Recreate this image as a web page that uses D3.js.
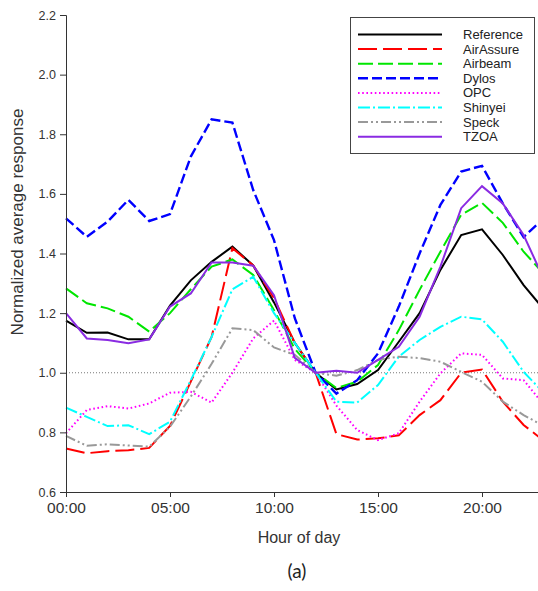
<!DOCTYPE html>
<html>
<head>
<meta charset="utf-8">
<script src="https://cdn.jsdelivr.net/npm/d3@7"></script>
<style>
  body { margin: 0; background: #fff; }
  svg { display: block; font-family: "Liberation Sans", Arial, sans-serif; }
</style>
</head>
<body>
<div class="container"></div>
<script>

// hours 0..23, one value per hour for each sensor
var hours = [0,1,2,3,4,5,6,7,8,9,10,11,12,13,14,15,16,17,18,19,20,21,22,23];

var reference = [1.175,1.134,1.135,1.112,1.112,1.225,1.31,1.372,1.423,1.36,1.236,1.10,1.0,0.944,0.962,1.009,1.104,1.2,1.345,1.462,1.481,1.395,1.294,1.21];
var airAssure = [0.746,0.73,0.737,0.74,0.748,0.822,0.97,1.12,1.418,1.36,1.25,1.10,1.0,0.794,0.776,0.78,0.79,0.858,0.908,1.0,1.011,0.903,0.825,0.77];
var airbeam   = [1.283,1.233,1.216,1.188,1.138,1.2,1.28,1.356,1.38,1.328,1.21,1.08,1.0,0.949,0.97,1.026,1.143,1.278,1.406,1.53,1.57,1.503,1.406,1.33];
var dylos     = [1.518,1.456,1.507,1.58,1.509,1.532,1.725,1.85,1.839,1.613,1.445,1.183,1.0,0.93,0.975,1.065,1.222,1.4,1.563,1.675,1.694,1.568,1.455,1.52];
var opc       = [0.797,0.875,0.888,0.88,0.897,0.933,0.936,0.9,1.0,1.115,1.175,1.043,1.0,0.89,0.808,0.774,0.797,0.903,0.998,1.065,1.06,0.981,0.975,0.89];
var shinyei   = [0.883,0.852,0.821,0.824,0.794,0.836,0.975,1.12,1.28,1.322,1.2,1.1,1.0,0.903,0.9,0.959,1.054,1.11,1.154,1.188,1.179,1.104,1.003,0.93];
var speck     = [0.788,0.755,0.76,0.756,0.752,0.819,0.92,1.03,1.149,1.143,1.085,1.06,1.0,0.99,1.009,1.043,1.054,1.049,1.037,1.003,0.97,0.903,0.858,0.82];
var tzoa      = [1.2,1.115,1.11,1.099,1.112,1.222,1.266,1.37,1.37,1.359,1.26,1.05,1.0,1.007,1.0,1.043,1.087,1.188,1.356,1.552,1.626,1.568,1.462,1.31];

var names = ["Reference","AirAssure","Airbeam","Dylos","OPC","Shinyei","Speck","TZOA"];
var xTicks = [0,5,10,15,20];
var yTicks = [0.6,0.8,1.0,1.2,1.4,1.6,1.8,2.0,2.2];

var series = [reference, airAssure, airbeam, dylos, opc, shinyei, speck, tzoa];

// line styles, same order as names
var colors = ["#000000","#ff0000","#00e600","#0000ff","#ff00ff","#00ffff","#999999","#8a2be2"];
var dashes = ["none","19,6","15,5","10,4","1.6,2.6","12,3,2,3","10,3,2,3,2,3","none"];
var widths = [2,2,2,2.4,2,2,2,2];

function makeStage(w, h) {
	var stage = d3.select(".container")
				  .append("svg")
				  .attr("width", w)
				  .attr("height", h);
	return stage;
}

var stage = makeStage(538, 591);

var x = d3.scaleLinear().domain([0, 23]).range([66, 544.4]);
var y = d3.scaleLinear().domain([0.6, 2.2]).range([492, 15]);

// dotted line at 1.0
stage.append("line")
	 .attr("x1", x(0)).attr("x2", 538)
	 .attr("y1", y(1)).attr("y2", y(1))
	 .style("stroke", "#777")
	 .style("stroke-width", 1)
	 .style("stroke-dasharray", "1,2");

var line = d3.line()
			 .x(function (d, i) { return x(hours[i]); })
			 .y(function (d) { return y(d); });

series.forEach(function (s, k) {
	stage.append("path")
		 .datum(s)
		 .attr("d", line)
		 .style("fill", "none")
		 .style("stroke", colors[k])
		 .style("stroke-width", widths[k])
		 .style("stroke-dasharray", dashes[k]);
});

// axes
var xAxis = d3.axisBottom(x)
			  .tickValues(xTicks)
			  .tickSizeOuter(0)
			  .tickSize(5)
			  .tickPadding(5)
			  .tickFormat(function (d) { return d3.format("02d")(d) + ":00"; });

var yAxis = d3.axisLeft(y)
			  .tickValues(yTicks)
			  .tickSizeOuter(0)
			  .tickSize(6)
			  .tickPadding(4)
			  .tickFormat(d3.format(".1f"));

var gx = stage.append("g")
			  .attr("transform", "translate(0," + y(0.6) + ")")
			  .call(xAxis);
gx.selectAll("text").style("font-size", "15.5px").style("fill", "#333");

var gy = stage.append("g")
			  .attr("transform", "translate(" + x(0) + ",0)")
			  .call(yAxis);
gy.selectAll("text").style("font-size", "12.5px").style("fill", "#333");

stage.selectAll(".domain, .tick line").style("stroke", "#333");

// axis titles
stage.append("text")
	 .attr("x", 299).attr("y", 543)
	 .attr("text-anchor", "middle")
	 .style("font-size", "16px")
	 .style("fill", "#333")
	 .text("Hour of day");

stage.append("text")
	 .attr("transform", "translate(23,222) rotate(-90)")
	 .attr("text-anchor", "middle")
	 .style("font-size", "17px")
	 .style("fill", "#333")
	 .text("Normalized average response");

stage.append("text")
	 .attr("x", 297).attr("y", 578)
	 .attr("text-anchor", "middle")
	 .style("font-family", "Lato, 'DejaVu Sans', sans-serif")
	 .style("font-style", "normal")
	 .style("font-size", "19px")
	 .style("fill", "#222")
	 .text("(a)");

// legend
var legend = stage.append("g");
legend.append("rect")
	  .attr("x", 350.5).attr("y", 17.5)
	  .attr("width", 184).attr("height", 136)
	  .style("fill", "#fff")
	  .style("stroke", "#444");

names.forEach(function (n, k) {
	var ly = 34.5 + k * 14.6;
	legend.append("line")
		  .attr("x1", 358).attr("x2", 442)
		  .attr("y1", ly).attr("y2", ly)
		  .style("stroke", colors[k])
		  .style("stroke-width", widths[k])
		  .style("stroke-dasharray", dashes[k]);
	legend.append("text")
		  .attr("x", 463).attr("y", ly + 4.5)
		  .attr("text-anchor", "start")
		  .style("font-size", "13px")
		  .style("fill", "#222")
		  .text(n);
});

</script>
</body>
</html>
